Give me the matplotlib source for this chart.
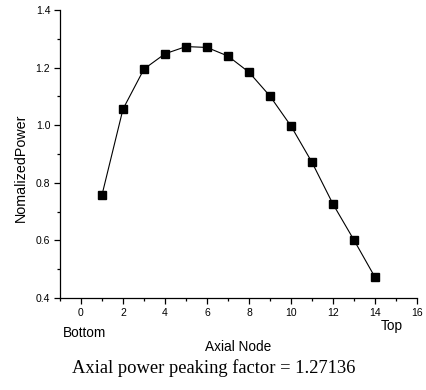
import matplotlib
matplotlib.use("Agg")
import matplotlib.pyplot as plt
from matplotlib.ticker import MultipleLocator

# axial node vs normalized power
nodes = [1, 2, 3, 4, 5, 6, 7, 8, 9, 10, 11, 12, 13, 14]
power = [0.758, 1.056, 1.195, 1.248, 1.273, 1.270, 1.240, 1.184,
         1.101, 0.997, 0.871, 0.726, 0.601, 0.472]
peaking = "1.27136"

sans = "Liberation Sans"
serif = "Liberation Serif"

W, H = 426.0, 390.0
fig = plt.figure(figsize=(W / 100, H / 100), dpi=100)
ax = fig.add_axes([60 / W, 1 - 298 / H, (417 - 60) / W, (298 - 10) / H])

ax.plot(nodes, power, color="black", linewidth=0.8,
        marker="s", markersize=5.2, markerfacecolor="black", markeredgecolor="black")

ax.set_xlim(-1, 16)
ax.set_ylim(0.4, 1.4)
ax.xaxis.set_major_locator(MultipleLocator(2))
ax.xaxis.set_minor_locator(MultipleLocator(1))
ax.yaxis.set_major_locator(MultipleLocator(0.2))
ax.yaxis.set_minor_locator(MultipleLocator(0.1))
ax.yaxis.set_major_formatter(plt.FuncFormatter(lambda v, p: "%.1f" % v))

for s in ("top", "right"):
    ax.spines[s].set_visible(False)
for s in ("left", "bottom"):
    ax.spines[s].set_linewidth(0.9)

ax.tick_params(which="major", direction="out", length=4, width=0.9,
               labelsize=7.5, pad=3)
ax.tick_params(which="minor", direction="out", length=2.5, width=0.9)
for lab in ax.get_xticklabels() + ax.get_yticklabels():
    lab.set_fontfamily(sans)

# labels are placed as free text to match the reference layout
fig.text(21 / W, 1 - 168 / H, "NomalizedPower", rotation=90,
         ha="center", va="center", fontsize=10.3, family=sans)
fig.text(238 / W, 1 - 351 / H, "Axial Node",
         ha="center", va="baseline", fontsize=9.8, family=sans)
fig.text(84.5 / W, 1 - 337 / H, "Bottom",
         ha="center", va="baseline", fontsize=9.8, family=sans)
fig.text(391.5 / W, 1 - 330 / H, "Top",
         ha="center", va="baseline", fontsize=9.8, family=sans)
fig.text(213.5 / W, 1 - 373 / H, "Axial power peaking factor = " + peaking,
         ha="center", va="baseline", fontsize=13.3, family=serif)

fig.savefig("out.png", dpi=100)
